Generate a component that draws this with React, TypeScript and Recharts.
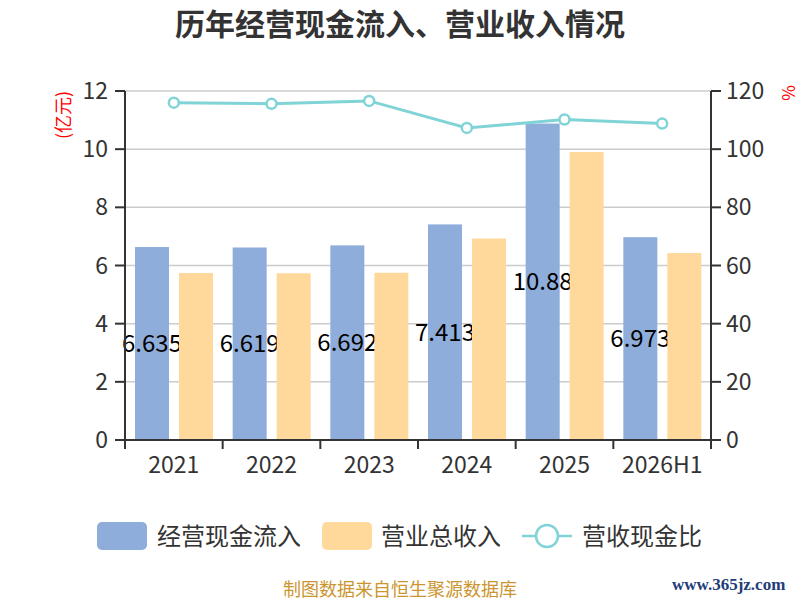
import React from "react";
import {
  Bar,
  CartesianGrid,
  ComposedChart,
  Line,
  XAxis,
  YAxis,
} from "recharts";

const years = ["2021", "2022", "2023", "2024", "2025", "2026H1"];
const cashInflow = [6.635, 6.619, 6.692, 7.413, 10.88, 6.973]; // 经营现金流入 (亿元)
const revenue = [5.74, 5.73, 5.75, 6.93, 9.9, 6.43]; // 营业总收入 (亿元)
const ratio = [116.0, 115.6, 116.6, 107.3, 110.2, 108.8]; // 营收现金比 (%)
const leftTicks = [0, 2, 4, 6, 8, 10, 12];
const rightTicks = [0, 20, 40, 60, 80, 100, 120];

const BLUE = "#8eaddb";
const ORANGE = "#ffd99b";
const TEAL = "#80d3d6";
const AXIS = "#333";
const FONT = '"Noto Sans CJK SC", "Noto Sans", sans-serif';

const W = 800;
const H = 600;
const PLOT_LEFT = 125;
const PLOT_RIGHT = 711;
const BAND = (PLOT_RIGHT - PLOT_LEFT) / years.length;

const data = years.map((year, i) => ({
  year,
  cash: cashInflow[i],
  revenue: revenue[i],
  ratio: ratio[i],
}));

// category axis: labels centred, tick marks on the band edges
function XTick(props: any) {
  const { x, y, payload, index } = props;
  const half = BAND / 2;
  return (
    <g>
      <line x1={x - half} x2={x - half} y1={y} y2={y + 9} stroke={AXIS} strokeWidth={2} />
      {index === years.length - 1 && (
        <line x1={x + half} x2={x + half} y1={y} y2={y + 9} stroke={AXIS} strokeWidth={2} />
      )}
      <text x={x} y={y + 33} textAnchor="middle" fontSize={23} fill={AXIS} fontFamily={FONT}>
        {payload.value}
      </text>
    </g>
  );
}

// blue bar with its value drawn in the bar layer, so the next bar can cover it
function CashBar(props: any) {
  const { x, y, width, height, value } = props;
  const v = Array.isArray(value) ? value[1] : value;
  return (
    <g>
      <rect x={x} y={y} width={width} height={height} fill={BLUE} />
      <text
        x={x + width / 2}
        y={y + height / 2}
        dy="0.35em"
        textAnchor="middle"
        fontSize={24}
        fill="#000"
        fontFamily={FONT}
      >
        {v}
      </text>
    </g>
  );
}

const legendText: React.CSSProperties = {
  position: "absolute",
  top: 520,
  fontSize: 24,
  lineHeight: "30px",
  color: "#333",
};

export default function App() {
  return (
    <div
      style={{
        position: "absolute",
        left: 0,
        top: 0,
        width: W,
        height: H,
        background: "#fff",
        fontFamily: FONT,
      }}
    >
      <div
        style={{
          position: "absolute",
          top: 3,
          left: 0,
          width: W,
          textAlign: "center",
          fontSize: 30,
          fontWeight: 700,
          color: "#333",
          lineHeight: "38px",
        }}
      >
        历年经营现金流入、营业收入情况
      </div>

      <ComposedChart
        width={W}
        height={H}
        data={data}
        margin={{ top: 91, right: 0, bottom: 0, left: 0 }}
        barSize={34}
        barGap={10}
        style={{ position: "absolute", left: 0, top: 0 }}
      >
        <CartesianGrid vertical={false} stroke="#cccccc" strokeWidth={1.5} yAxisId="left" />
        <XAxis
          dataKey="year"
          height={160}
          axisLine={{ stroke: AXIS, strokeWidth: 2 }}
          tickLine={false}
          tickSize={0}
          tickMargin={0}
          tick={XTick}
          interval={0}
        />
        <YAxis
          yAxisId="left"
          width={PLOT_LEFT}
          domain={[0, 12]}
          ticks={leftTicks}
          interval={0}
          axisLine={{ stroke: AXIS, strokeWidth: 2 }}
          tickLine={{ stroke: AXIS, strokeWidth: 2 }}
          tickSize={10}
          tickMargin={7}
          tick={{ fontSize: 23, fill: AXIS, fontFamily: FONT }}
        />
        <YAxis
          yAxisId="right"
          orientation="right"
          width={W - PLOT_RIGHT}
          domain={[0, 120]}
          ticks={rightTicks}
          interval={0}
          axisLine={{ stroke: AXIS, strokeWidth: 2 }}
          tickLine={{ stroke: AXIS, strokeWidth: 2 }}
          tickSize={10}
          tickMargin={5}
          tick={{ fontSize: 23, fill: AXIS, fontFamily: FONT }}
        />
        <Bar
          yAxisId="left"
          dataKey="cash"
          fill={BLUE}
          shape={CashBar}
          isAnimationActive={false}
        />
        <Bar yAxisId="left" dataKey="revenue" fill={ORANGE} isAnimationActive={false} />
        <Line
          yAxisId="right"
          dataKey="ratio"
          stroke={TEAL}
          strokeWidth={3}
          dot={{ r: 5, fill: "#fff", stroke: TEAL, strokeWidth: 2.5 }}
          isAnimationActive={false}
        />
      </ComposedChart>

      {/* axis units */}
      <div
        style={{
          position: "absolute",
          left: 62,
          top: 115,
          transform: "translate(-50%, -50%) rotate(-90deg)",
          color: "#ff0000",
          fontSize: 18,
          whiteSpace: "nowrap",
        }}
      >
        (亿元)
      </div>
      <div
        style={{
          position: "absolute",
          left: 787,
          top: 93,
          transform: "translate(-50%, -50%) rotate(-90deg)",
          color: "#ff0000",
          fontSize: 17,
        }}
      >
        %
      </div>

      {/* legend */}
      <div
        style={{
          position: "absolute",
          left: 97,
          top: 522,
          width: 50,
          height: 28,
          borderRadius: 5,
          background: BLUE,
        }}
      />
      <div style={{ ...legendText, left: 157 }}>经营现金流入</div>
      <div
        style={{
          position: "absolute",
          left: 322,
          top: 522,
          width: 50,
          height: 28,
          borderRadius: 5,
          background: ORANGE,
        }}
      />
      <div style={{ ...legendText, left: 381 }}>营业总收入</div>
      <svg style={{ position: "absolute", left: 520, top: 520 }} width={54} height={32}>
        <line x1={2} x2={52} y1={16} y2={16} stroke={TEAL} strokeWidth={2.5} />
        <circle cx={27} cy={16} r={11} fill="#fff" stroke={TEAL} strokeWidth={2.5} />
      </svg>
      <div style={{ ...legendText, left: 582 }}>营收现金比</div>

      {/* footer */}
      <div
        style={{
          position: "absolute",
          top: 578,
          left: 0,
          width: W,
          textAlign: "center",
          fontSize: 18,
          lineHeight: "20px",
          color: "#cc9530",
        }}
      >
        制图数据来自恒生聚源数据库
      </div>
      <div
        style={{
          position: "absolute",
          top: 574,
          left: 672,
          fontSize: 17,
          lineHeight: "22px",
          fontWeight: 700,
          color: "#1f3d78",
          fontFamily: '"Liberation Serif", serif',
        }}
      >
        www.365jz.com
      </div>
    </div>
  );
}
